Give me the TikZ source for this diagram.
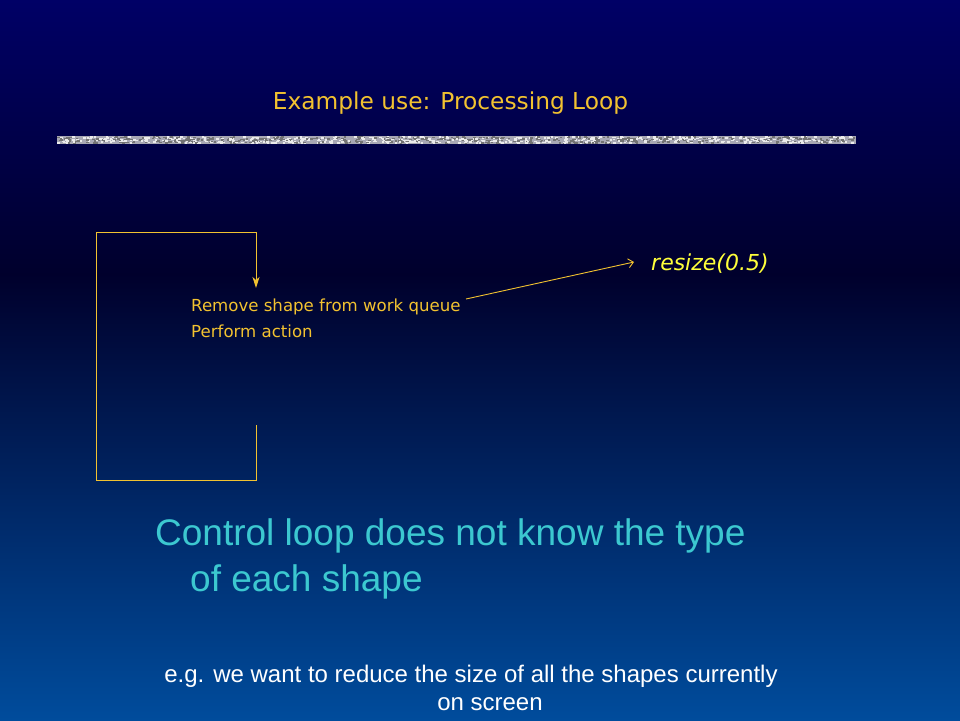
\documentclass[tikz,border=0pt]{standalone}
\usepackage{fontspec}
\setmainfont{Liberation Sans}
\newfontfamily\tah{DejaVu Sans}
\usetikzlibrary{arrows.meta}
\definecolor{gold}{HTML}{F2C230}
\definecolor{brightyel}{HTML}{FFFF3A}
\definecolor{cyantxt}{HTML}{3CC8D0}
\definecolor{bgtop}{HTML}{000066}
\definecolor{bgmid}{HTML}{00002C}
\definecolor{bgbot}{HTML}{004C9C}
\definecolor{barbase}{HTML}{A8A8B4}
\tikzset{
  loopline/.style={draw=gold, line width=1pt},
  goldtxt/.style={text=gold, font=\tah\fontsize{16.6}{20}\selectfont, inner sep=0pt, anchor=base west},
}
\begin{document}
\begin{tikzpicture}[x=1pt,y=-1pt]
\useasboundingbox (0,0) rectangle (960,720);
\shade[top color=bgtop, bottom color=bgmid] (0,0) rectangle (960,275);
\shade[top color=bgmid, bottom color=bgbot] (0,274) rectangle (960,720);
% title
\node[text=gold, font=\tah\fontsize{23.3}{28}\selectfont, inner sep=0pt, anchor=base] (title) at (450.5,109) {Example use: Processing Loop};
% textured bar
\fill[barbase] (57,136) rectangle (856,144);
\pgfmathsetseed{7}
\foreach \i in {1,...,1100}{
  \pgfmathsetmacro{\xx}{57+rnd*796}
  \pgfmathsetmacro{\yy}{136+rnd*6.5}
  \pgfmathsetmacro{\cc}{rnd>0.5 ? 55 : 8}
  \fill[black!\cc!white] (\xx,\yy) rectangle ++(2.5,1.5);
}
% loop
\node[goldtxt] (l1) at (191,311) {Remove shape from work queue};
\node[goldtxt] (l2) at (191,337) {Perform action};
\coordinate (ls) at (256,425);
\coordinate (le) at (256,288);
\draw[loopline, -{Stealth[length=11pt,width=7pt,inset=3pt]}] (ls) -- (256,480) -- (96,480) -- (96,232) -- (256,232) -- (le);
% resize
\node[text=brightyel, font=\tah\itshape\fontsize{22}{24}\selectfont, inner sep=0pt, anchor=base west] (rs) at (651,270) {resize(0.5)};
\coordinate (rsa) at (634,262);
\draw[draw=gold, line width=0.9pt, -{Straight Barb[length=5pt,width=9pt]}] (466,299) -- (rsa);
% texts
\node[text=cyantxt, font=\fontsize{37}{40}\selectfont, inner sep=0pt, anchor=base west] (c1) at (155,545) {Control loop does not know the type};
\node[text=cyantxt, font=\fontsize{37}{40}\selectfont, inner sep=0pt, anchor=base west] (c2) at (190,591) {of each shape};
\node[text=white, font=\fontsize{24}{28}\selectfont, inner sep=0pt, anchor=base] (e1) at (471,682) {e.g. we want to reduce the size of all the shapes currently};
\node[text=white, font=\fontsize{24}{28}\selectfont, inner sep=0pt, anchor=base] (e2) at (490,710) {on screen};
\end{tikzpicture}
\end{document}
